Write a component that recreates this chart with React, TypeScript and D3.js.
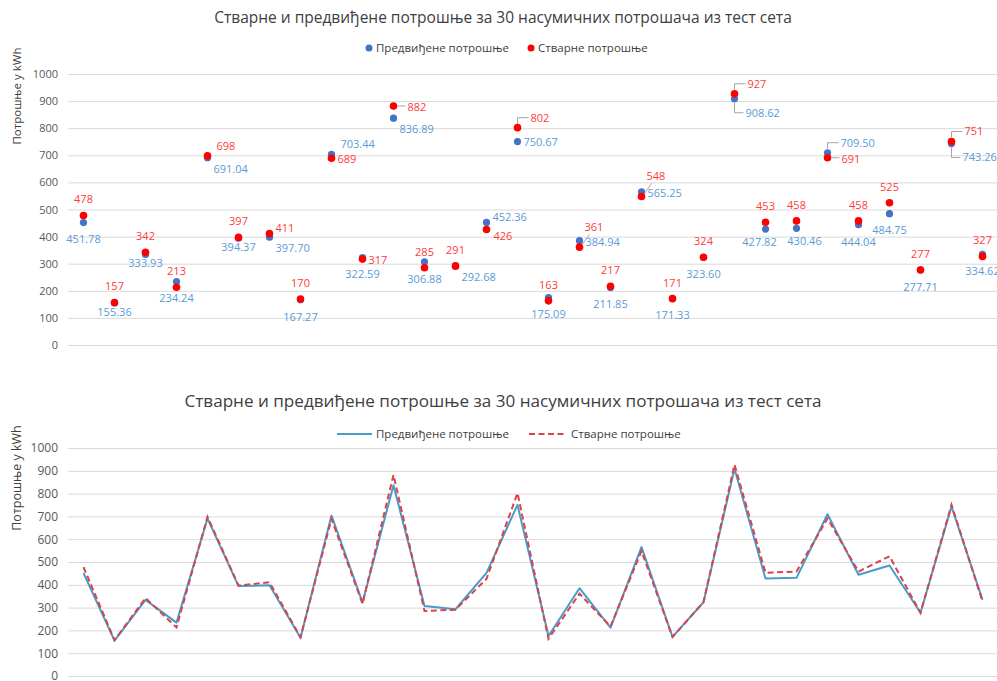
import { useEffect, useRef } from 'react';
import * as d3 from 'd3';

const TITLE = 'Стварне и предвиђене потрошње за 30 насумичних потрошача из тест сета';
const PRED_NAME = 'Предвиђене потрошње';
const ACTUAL_NAME = 'Стварне потрошње';
const Y_TITLE = 'Потрошње у kWh';

const consumers = [
  'P1', 'P2', 'P3', 'P4', 'P5', 'P6', 'P7', 'P8', 'P9', 'P10',
  'P11', 'P12', 'P13', 'P14', 'P15', 'P16', 'P17', 'P18', 'P19', 'P20',
  'P21', 'P22', 'P23', 'P24', 'P25', 'P26', 'P27', 'P28', 'P29', 'P30',
];

const predicted = [
  451.78, 155.36, 333.93, 234.24, 691.04, 394.37, 397.7, 167.27, 703.44, 322.59,
  836.89, 306.88, 292.68, 452.36, 750.67, 175.09, 384.94, 211.85, 565.25, 171.33,
  323.6, 908.62, 427.82, 430.46, 709.5, 444.04, 484.75, 277.71, 743.26, 334.62,
];

const actual = [
  478, 157, 342, 213, 698, 397, 411, 170, 689, 317,
  882, 285, 291, 426, 802, 163, 361, 217, 548, 171,
  324, 927, 453, 458, 691, 458, 525, 277, 751, 327,
];

const yTicks = [0, 100, 200, 300, 400, 500, 600, 700, 800, 900, 1000];

// where each data label sits around its point (top chart)
const actualLabelSide = [
  'T', 'T', 'T', 'T', 'TR', 'T', 'RU', 'T', 'R', 'R',
  'RL', 'T', 'T', 'RD', 'TRL', 'T', 'UP', 'T', 'UP', 'T',
  'T', 'TRL', 'T', 'T', 'RL', 'T', 'T', 'T', 'TRL', 'T',
];
const predLabelSide = [
  'B', 'b', 'b', 'B', 'BR', 'b', 'BR', 'B', 'TR', 'B',
  'BR', 'B', 'BR', 'RU', 'R', 'B', 'R', 'B', 'R', 'B',
  'B', 'BRL', 'Bl', 'Br', 'TRL', 'B', 'B', 'B', 'BRL', 'B',
];

const SIDES: Record<string, { dx: number; dy: number; anchor: string; leader?: boolean }> = {
  T: { dx: 0, dy: -16, anchor: 'middle' },
  B: { dx: 0, dy: 17, anchor: 'middle' },
  Bl: { dx: -6, dy: 13, anchor: 'middle' },
  Br: { dx: 8, dy: 13, anchor: 'middle' },
  b: { dx: 0, dy: 9, anchor: 'middle' },
  R: { dx: 6, dy: 1, anchor: 'start' },
  RU: { dx: 6, dy: -5, anchor: 'start' },
  RD: { dx: 7, dy: 7, anchor: 'start' },
  TR: { dx: 9, dy: -10, anchor: 'start' },
  BR: { dx: 6, dy: 11, anchor: 'start' },
  UP: { dx: 5, dy: -20, anchor: 'start', leader: true },
  RL: { dx: 14, dy: 1, anchor: 'start', leader: true },
  TRL: { dx: 13, dy: -10, anchor: 'start', leader: true },
  BRL: { dx: 11, dy: 14, anchor: 'start', leader: true },
};

const FONT = "'Open Sans', 'Noto Sans', sans-serif";
const RED = '#FF0000';
const RED_TEXT = '#FF3B3B';
const BLUE = '#4472C4';
const BLUE_TEXT = '#5B9BD5';
const LINE_BLUE = '#4B9BC8';
const LINE_RED = '#D9434B';

export default function App() {
  const svgRef = useRef<SVGSVGElement>(null);
  const width = 997;
  const height = 681;

  useEffect(() => {
    if (!svgRef.current) return;
    const svg = d3.select(svgRef.current);
    svg.selectAll('*').remove();

    const x = d3.scaleBand<string>().domain(consumers).range([68, 998]);
    const cx = (i: number) => (x(consumers[i]) ?? 0) + x.bandwidth() / 2;

    const yTop = d3.scaleLinear().domain([0, 1000]).range([345, 74]);
    const yBot = d3.scaleLinear().domain([0, 1000]).range([676, 448]);

    const drawFrame = (
      y: d3.ScaleLinear<number, number>,
      titleY: number,
      titleSize: number,
      axisTitleY: number,
      axisTitleSize: number,
      tickSize: number,
    ) => {
      // grid
      const grid = svg.append('g')
        .attr('transform', 'translate(68,0)')
        .call(d3.axisLeft(y).tickValues(yTicks).tickSize(-930).tickFormat(() => ''));
      grid.select('.domain').remove();
      grid.selectAll('line').style('stroke', '#D9D9D9').style('stroke-width', 1);

      // tick labels
      const ax = svg.append('g')
        .attr('transform', 'translate(58,0)')
        .call(d3.axisLeft(y).tickValues(yTicks).tickSize(0).tickPadding(0).tickFormat(d3.format('d')));
      ax.select('.domain').remove();
      ax.selectAll('text')
        .style('font-family', FONT)
        .style('font-size', `${tickSize}px`)
        .style('fill', '#595959');

      svg.append('text')
        .attr('x', 503)
        .attr('y', titleY)
        .attr('text-anchor', 'middle')
        .style('font-family', FONT)
        .style('font-size', `${titleSize}px`)
        .style('fill', '#404040')
        .text(TITLE);

      svg.append('text')
        .attr('transform', `translate(21,${axisTitleY}) rotate(-90)`)
        .attr('text-anchor', 'middle')
        .style('font-family', FONT)
        .style('font-size', `${axisTitleSize}px`)
        .style('fill', '#404040')
        .text(Y_TITLE);
    };

    // ---------- Top: scatter with data labels ----------
    drawFrame(yTop, 23, 15.5, 96, 11.5, 11);

    // legend
    const lg = svg.append('g').style('font-family', FONT).style('font-size', '11.5px').style('fill', '#404040');
    lg.append('circle').attr('cx', 369).attr('cy', 48).attr('r', 3.5).attr('fill', BLUE);
    lg.append('text').attr('x', 376).attr('y', 48).attr('dy', '0.35em').text(PRED_NAME);
    lg.append('circle').attr('cx', 531).attr('cy', 48).attr('r', 3.5).attr('fill', RED);
    lg.append('text').attr('x', 538).attr('y', 48).attr('dy', '0.35em').text(ACTUAL_NAME);

    const labels = svg.append('g').style('font-family', FONT).style('font-size', '11px');
    const leaders = svg.append('g').attr('fill', 'none').attr('stroke', '#A6A6A6').attr('stroke-width', 1);

    const addLabels = (values: number[], sides: string[], color: string, fmt: (v: number) => string) => {
      values.forEach((v, i) => {
        const s = SIDES[sides[i]];
        const px = cx(i);
        const py = yTop(v);
        labels.append('text')
          .attr('x', px + s.dx)
          .attr('y', py + s.dy)
          .attr('dy', '0.35em')
          .attr('text-anchor', s.anchor)
          .style('fill', color)
          .text(fmt(v));
        if (s.leader) {
          const p = d3.path();
          if (s.dy === 1) {
            p.moveTo(px + 4, py);
            p.lineTo(px + s.dx - 2, py);
          } else if (sides[i] === 'UP') {
            p.moveTo(px + 3, py - 3);
            p.lineTo(px + s.dx + 5, py + s.dy + 7);
          } else {
            const sign = s.dy < 0 ? -1 : 1;
            p.moveTo(px, py + sign * 4);
            p.lineTo(px, py + s.dy);
            p.lineTo(px + s.dx - 2, py + s.dy);
          }
          leaders.append('path').attr('d', p.toString());
        }
      });
    };

    svg.append('g')
      .selectAll('circle')
      .data(predicted)
      .join('circle')
      .attr('cx', (_, i) => cx(i))
      .attr('cy', d => yTop(d))
      .attr('r', 3.6)
      .attr('fill', BLUE);

    svg.append('g')
      .selectAll('circle')
      .data(actual)
      .join('circle')
      .attr('cx', (_, i) => cx(i))
      .attr('cy', d => yTop(d))
      .attr('r', 3.8)
      .attr('fill', RED);

    addLabels(actual, actualLabelSide, RED_TEXT, v => String(v));
    addLabels(predicted, predLabelSide, BLUE_TEXT, v => v.toFixed(2));
    labels.raise();

    // ---------- Bottom: line chart ----------
    drawFrame(yBot, 407, 17.1, 478, 12.5, 12);

    const lg2 = svg.append('g').style('font-family', FONT).style('font-size', '11.5px').style('fill', '#404040');
    lg2.append('line').attr('x1', 337).attr('x2', 372).attr('y1', 434).attr('y2', 434)
      .attr('stroke', LINE_BLUE).attr('stroke-width', 2);
    lg2.append('text').attr('x', 376).attr('y', 434).attr('dy', '0.35em').text(PRED_NAME);
    lg2.append('line').attr('x1', 529).attr('x2', 567).attr('y1', 434).attr('y2', 434)
      .attr('stroke', LINE_RED).attr('stroke-width', 2).attr('stroke-dasharray', '6,3.5');
    lg2.append('text').attr('x', 571).attr('y', 434).attr('dy', '0.35em').text(ACTUAL_NAME);

    const line = d3.line<number>()
      .x((_, i) => cx(i))
      .y(d => yBot(d));

    svg.append('path')
      .datum(predicted)
      .attr('fill', 'none')
      .attr('stroke', LINE_BLUE)
      .attr('stroke-width', 2)
      .attr('stroke-linejoin', 'round')
      .attr('d', line);

    svg.append('path')
      .datum(actual)
      .attr('fill', 'none')
      .attr('stroke', LINE_RED)
      .attr('stroke-width', 2)
      .attr('stroke-dasharray', '6,3.5')
      .attr('d', line);
  }, []);

  return (
    <svg
      ref={svgRef}
      width={width}
      height={height}
      viewBox={`0 0 ${width} ${height}`}
      style={{ position: 'absolute', left: 0, top: 0, background: '#fff' }}
    />
  );
}
